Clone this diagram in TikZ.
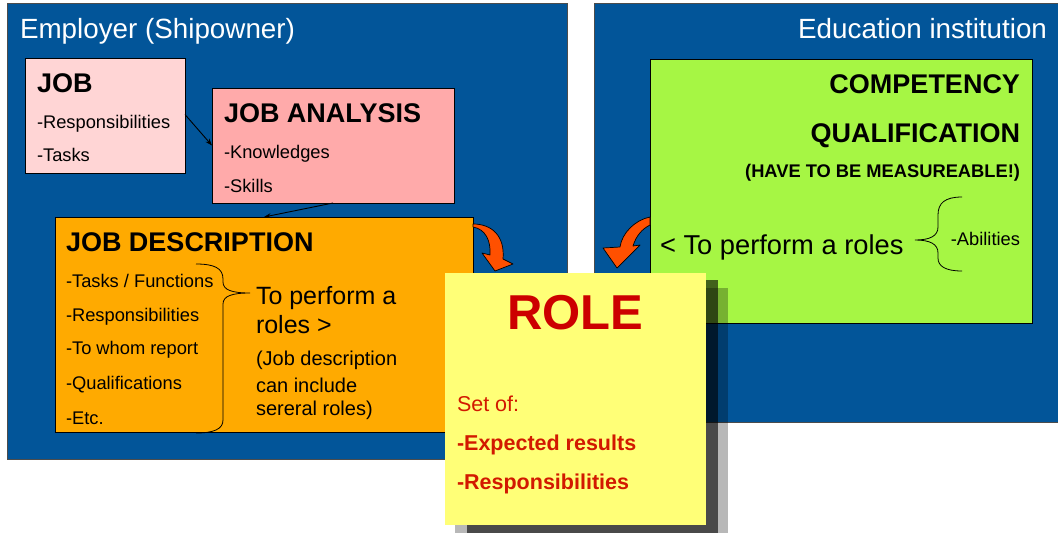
\documentclass[tikz,border=0pt]{standalone}
\usepackage{fontspec}
\setmainfont{Liberation Sans}
\usetikzlibrary{arrows.meta}
\definecolor{bluebg}{RGB}{2,85,153}
\definecolor{jobpink}{RGB}{255,213,213}
\definecolor{anapink}{RGB}{255,170,170}
\definecolor{jdorange}{RGB}{255,170,0}
\definecolor{roleyellow}{RGB}{255,255,119}
\definecolor{compgreen}{RGB}{166,246,68}
\definecolor{rolered}{RGB}{204,0,0}
\definecolor{listred}{RGB}{210,25,0}
\definecolor{arroworange}{RGB}{255,80,0}
\tikzset{
  panel/.style={draw=black!70, line width=0.8pt, fill=bluebg, anchor=north west, inner sep=0, outer sep=0},
  box/.style={draw=black, line width=0.8pt, anchor=north west, inner sep=0, outer sep=0},
  lbl/.style={inner sep=0, outer sep=0},
  ttl/.style={lbl, text=white, font=\fontsize{27.8}{32}\selectfont},
  head/.style={lbl, font=\bfseries\fontsize{27}{32}\selectfont},
  item/.style={lbl, font=\fontsize{18.3}{22}\selectfont},
  big/.style={lbl, font=\fontsize{25}{30}\selectfont},
  mid/.style={lbl, font=\fontsize{20}{24}\selectfont},
  thin/.style={draw=black, line width=0.9pt, -{Stealth[length=7pt,width=5pt]}},
  curly/.style={draw=black, line width=0.8pt},
  bigarrow/.style={fill=arroworange, draw=black, line width=0.7pt, line join=round},
}
\begin{document}
\begin{tikzpicture}[x=1pt,y=-1pt]
\useasboundingbox (0,0) rectangle (1058,533);
\fill[white] (0,0) rectangle (1058,533);
% panels
\node[panel, minimum width=560, minimum height=456] (emp) at (7,3) {};
\node[panel, minimum width=470, minimum height=419] (edu) at (594,3) {};
\node[ttl, anchor=base west] (empt) at (20,38) {Employer (Shipowner)};
\node[ttl, anchor=base east] (edut) at (1047,38) {Education institution};
% JOB
\node[box, fill=jobpink, minimum width=160, minimum height=115] (job) at (25,58) {};
\node[head, anchor=base west] (jobt) at (37,92) {JOB};
\node[item, anchor=base west] (job1) at (37,128) {-Responsibilities};
\node[item, anchor=base west] (job2) at (37,161.5) {-Tasks};
% JOB ANALYSIS
\node[box, fill=anapink, minimum width=242, minimum height=115] (ja) at (212,88) {};
\node[head, anchor=base west] (jat) at (224,122) {JOB ANALYSIS};
\node[item, anchor=base west] (ja1) at (224,158) {-Knowledges};
\node[item, anchor=base west] (ja2) at (224,192) {-Skills};
% JOB DESCRIPTION
\node[box, fill=jdorange, minimum width=418, minimum height=215] (jd) at (55,217) {};
\node[head, anchor=base west] (jdt) at (66,251) {JOB DESCRIPTION};
\node[item, anchor=base west] (jd1) at (66,287) {-Tasks / Functions};
\node[item, anchor=base west] (jd2) at (66,321.5) {-Responsibilities};
\node[item, anchor=base west] (jd3) at (66,354.6) {-To whom report};
\node[item, anchor=base west] (jd4) at (66,389) {-Qualifications};
\node[item, anchor=base west] (jd5) at (66,424) {-Etc.};
\node[big, anchor=base west] (jdp1) at (256,304) {To perform a};
\node[big, anchor=base west] (jdp2) at (256,333.5) {roles >};
\node[mid, anchor=base west] (jdn1) at (256,365) {(Job description};
\node[mid, anchor=base west] (jdn2) at (256,392) {can include};
\node[mid, anchor=base west] (jdn3) at (256,415) {sereral roles)};
\path[curly] (196,264) .. controls (214,264) and (223,268) .. (223,279)
  -- (223,282) .. controls (223,290) and (232,293) .. (250,293)
  .. controls (232,293) and (223,296) .. (223,304)
  -- (223,420) .. controls (223,429) and (214,433) .. (196,433);
% thin arrows
\draw[thin] ([yshift=1pt]job.east) -- ([yshift=0pt]ja.west);
\draw[thin] (ja.south) -- (jd.north);
% COMPETENCY
\node[box, fill=compgreen, minimum width=382, minimum height=264] (comp) at (650,59) {};
\node[head, anchor=base east] (ct1) at (1020,93) {COMPETENCY};
\node[head, anchor=base east] (ct2) at (1020,142.7) {QUALIFICATION};
\node[lbl, font=\bfseries\fontsize{18.3}{22}\selectfont, anchor=base east] (ct3) at (1020,177.5) {(HAVE TO BE MEASUREABLE!)};
\node[lbl, font=\fontsize{27.3}{32}\selectfont, anchor=base west] (ct4) at (660,254) {< To perform a roles};
\node[item, anchor=base east] (ct5) at (1020,245.5) {-Abilities};
\path[curly] (962,197) .. controls (945,197) and (938,203) .. (938,215)
  -- (938,227) .. controls (938,236) and (930,240) .. (915,240)
  .. controls (930,240) and (938,244) .. (938,253)
  -- (938,258) .. controls (938,266) and (945,271) .. (962,271);
% orange curved arrows
\path[bigarrow] (473,224) .. controls (492,224) and (505,236) .. (503,259)
  -- (513,264) -- (495,271) -- (482,253) -- (490,255)
  .. controls (491,240) and (485,229) .. (473,227) -- cycle;
\path[bigarrow] (650,217) .. controls (635,220) and (622,233) .. (620,247)
  -- (603,248) -- (617,268) -- (640,245) -- (633,246)
  .. controls (636,236) and (642,229) .. (650,225) -- cycle;
% shadow
\fill[black, opacity=0.28] (455,288) rectangle (728,533);
\fill[black, opacity=0.6] (467,280) rectangle (718,533);
% ROLE
\node[anchor=north west, fill=roleyellow, inner sep=0, outer sep=0, minimum width=261, minimum height=252] (role) at (445,273) {};
\node[lbl, text=rolered, font=\bfseries\fontsize{49}{56}\selectfont, anchor=base] (rolet) at (575.5,329) {ROLE};
\node[lbl, text=listred, font=\fontsize{21.5}{26}\selectfont, anchor=base west] (role1) at (457,411) {Set of:};
\node[lbl, text=listred, font=\bfseries\fontsize{21.5}{26}\selectfont, anchor=base west] (role2) at (457,450) {-Expected results};
\node[lbl, text=listred, font=\bfseries\fontsize{21.5}{26}\selectfont, anchor=base west] (role3) at (457,489) {-Responsibilities};
\end{tikzpicture}
\end{document}
